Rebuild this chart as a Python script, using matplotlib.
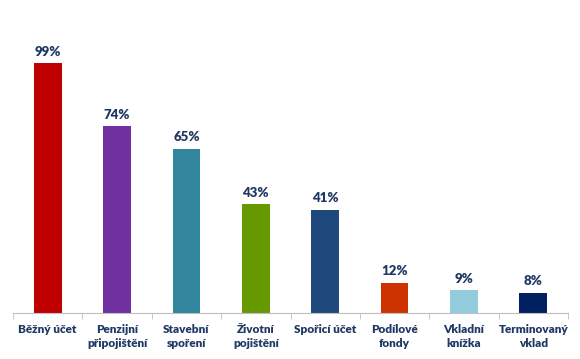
import numpy as np
import matplotlib.pyplot as plt

# data
categories = ['Běžný účet', 'Penzijní\npřipojištění', 'Stavební\nspoření', 'Životní\npojištění',
              'Spořicí účet', 'Podílové\nfondy', 'Vkladní\nknížka', 'Terminovaný\nvklad']
values = [99, 74, 65, 43, 41, 12, 9, 8]
colors = ['#C00000', '#7030A0', '#31859C', '#669900', '#1F497D', '#CC3300', '#93CDDD', '#002060']
text_color = '#1F3864'

plt.rcParams['font.family'] = ['Lato', 'DejaVu Sans']

fig = plt.figure(figsize=(5.8, 3.59), dpi=100)
ax = fig.add_axes([0.0224, 0.128, 0.957, 0.872])

x = np.arange(len(categories))
ax.bar(x, values, width=0.4, color=colors)

for xi, v in zip(x, values):
    ax.text(xi, v + 2.2, f'{v}%', ha='center', va='bottom', fontsize=9.5,
            fontweight='heavy', color=text_color)

ax.set_xlim(-0.5, len(categories) - 0.5)
ax.set_ylim(0, 124)
ax.set_yticks([])
ax.set_xticks(x)
ax.set_xticklabels(categories, fontsize=8.5, fontweight='heavy', color=text_color, linespacing=1.35)
ax.tick_params(axis='x', length=0, pad=8)
ax.set_xticks(np.arange(len(categories) + 1) - 0.5, minor=True)
ax.tick_params(axis='x', which='minor', length=4, color='#BFBFBF')

for s in ['top', 'right', 'left']:
    ax.spines[s].set_visible(False)
ax.spines['bottom'].set_color('#BFBFBF')

fig.savefig('out.png', dpi=100)
